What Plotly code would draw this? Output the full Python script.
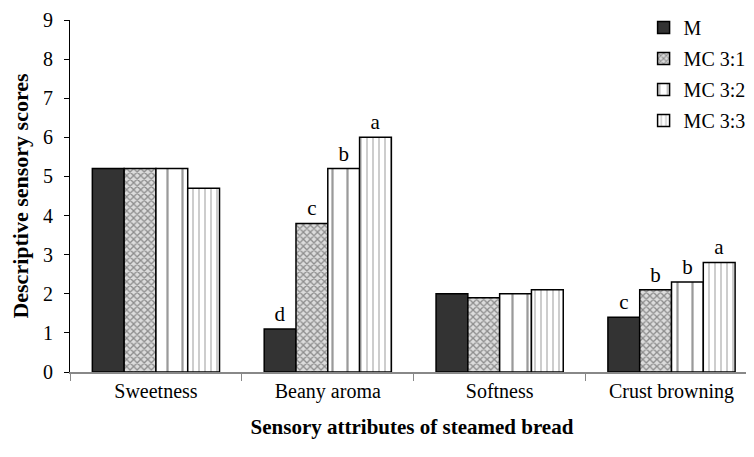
import plotly.graph_objects as go

categories = ["Sweetness", "Beany aroma", "Softness", "Crust browning"]
series_names = ["M", "MC 3:1", "MC 3:2", "MC 3:3"]
m_vals = [5.2, 1.1, 2.0, 1.4]
mc31_vals = [5.2, 3.8, 1.9, 2.1]
mc32_vals = [5.2, 5.2, 2.0, 2.3]
mc33_vals = [4.7, 6.0, 2.1, 2.8]
m_letters = ["", "d", "", "c"]
mc31_letters = ["", "c", "", "b"]
mc32_letters = ["", "b", "", "b"]
mc33_letters = ["", "a", "", "a"]

values = [m_vals, mc31_vals, mc32_vals, mc33_vals]
letters = [m_letters, mc31_letters, mc32_letters, mc33_letters]
patterns = [
    dict(shape=""),
    dict(shape="x", fgcolor="#8c8c8c", bgcolor="#dcdcdc", size=5, solidity=0.45, fillmode="replace"),
    dict(shape="|", fgcolor="#9a9a9a", bgcolor="white", size=15, solidity=0.15, fillmode="replace"),
    dict(shape="|", fgcolor="#c8c8c8", bgcolor="white", size=6, solidity=0.3, fillmode="replace"),
]
colors = ["#333333", "#dcdcdc", "white", "white"]

font = "Liberation Serif, Times New Roman, serif"
fig = go.Figure()
for i, name in enumerate(series_names):
    fig.add_trace(go.Bar(
        x=categories, y=values[i], name=name,
        marker=dict(color=colors[i], pattern=patterns[i],
                    line=dict(color="black", width=1.5)),
        text=letters[i], textposition="outside", cliponaxis=False,
        textfont=dict(family=font, size=21, color="black"),
        legendgroup=name,
    ))

fig.update_layout(
    width=746, height=449,
    margin=dict(l=62, r=0, t=12, b=85, autoexpand=False),
    plot_bgcolor="white", paper_bgcolor="white",
    barmode="group", bargap=0.26, bargroupgap=0,
    font=dict(family=font, size=20, color="black"),
    showlegend=True,
    legend=dict(xref="container", yref="container", x=0.852, y=1.018,
                xanchor="left", yanchor="top",
                font=dict(family=font, size=20, color="black"),
                traceorder="grouped", tracegroupgap=2,
                bgcolor="rgba(0,0,0,0)"),
    xaxis=dict(range=[-0.5, 3.48], showline=True, linecolor="#888888", linewidth=1.5,
               ticks="outside", tickson="boundaries", ticklen=7, tickcolor="#888888",
               automargin=False,
               title=dict(text="<b>Sensory attributes of steamed bread</b>", standoff=18,
                          font=dict(family=font, size=21)),
               tickfont=dict(family=font, size=20)),
    yaxis=dict(range=[0, 9], dtick=1, showline=True, linecolor="black", linewidth=1.2,
               ticks="outside", ticklen=5, tickcolor="black", showgrid=False, zeroline=False,
               ticklabelstandoff=7, automargin=False,
               title=dict(text="<b>Descriptive sensory scores</b>", standoff=12,
                          font=dict(family=font, size=22)),
               tickfont=dict(family=font, size=20)),
)

fig.write_html("out.html")
